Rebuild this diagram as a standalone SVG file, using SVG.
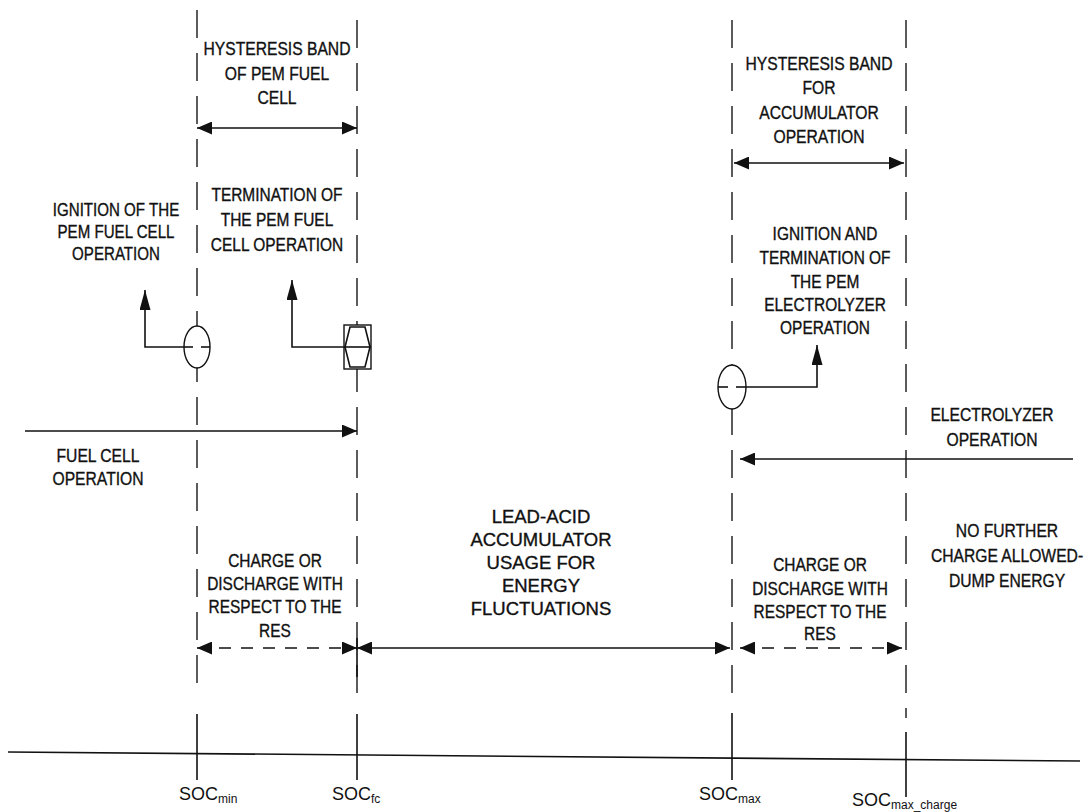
<svg xmlns="http://www.w3.org/2000/svg" width="1089" height="812" viewBox="0 0 1089 812">
<style>
.t{font-family:"Liberation Sans",Arial,sans-serif;font-size:18px;fill:#111;stroke:#111;stroke-width:0.35;text-anchor:middle}
.big{font-size:18.5px}
.soc{font-family:"Liberation Sans",Arial,sans-serif;font-size:18px;fill:#111}
.sub{font-size:12px}
.dash{stroke:#333;stroke-width:1.6;stroke-dasharray:28 15;fill:none}
.ln{stroke:#111;stroke-width:1.6;fill:none}
.dl{stroke:#111;stroke-width:1.6;fill:none;stroke-dasharray:12 10}
.sym{stroke:#111;stroke-width:1.4;fill:#fff}
</style>
<defs>
<marker id="ah" markerUnits="userSpaceOnUse" markerWidth="15" markerHeight="13" refX="15" refY="6.5" orient="auto-start-reverse"><path d="M0,0 L15,6.5 L0,13 z" fill="#111"/></marker>
<marker id="av" markerUnits="userSpaceOnUse" markerWidth="20" markerHeight="11" refX="20" refY="5.5" orient="auto"><path d="M0,0 L20,5.5 L0,11 z" fill="#111"/></marker>
</defs>
<rect width="1089" height="812" fill="#fff"/>

<g id="guides">
<line class="dash" x1="197" y1="10" x2="197" y2="690"/>
<line class="dash" x1="357" y1="20" x2="357" y2="700"/>
<line class="dash" x1="732" y1="20" x2="732" y2="700"/>
<line class="dash" x1="906" y1="20" x2="906" y2="718"/>
<line class="ln" x1="357" y1="638" x2="357" y2="677"/>
</g>

<g id="axis">
<line class="ln" x1="8" y1="752" x2="1080" y2="761"/>
<line class="ln" x1="197" y1="714" x2="197" y2="780"/>
<line class="ln" x1="357" y1="714" x2="357" y2="780"/>
<line class="ln" x1="732" y1="713" x2="732" y2="780"/>
<line class="ln" x1="906" y1="732" x2="906" y2="797"/>
</g>

<g id="connectors">
<line class="ln" x1="197" y1="128" x2="357" y2="128" marker-start="url(#ah)" marker-end="url(#ah)"/>
<line class="ln" x1="734" y1="163" x2="904" y2="163" marker-start="url(#ah)" marker-end="url(#ah)"/>
<line class="ln" x1="25" y1="431" x2="357" y2="431" marker-end="url(#ah)"/>
<line class="ln" x1="1073" y1="459" x2="740" y2="459" marker-end="url(#ah)"/>
<line class="dl" x1="197" y1="648" x2="357" y2="648" marker-start="url(#ah)" marker-end="url(#ah)"/>
<line class="ln" x1="357" y1="648" x2="730" y2="648" marker-start="url(#ah)" marker-end="url(#ah)"/>
<line class="dl" x1="740" y1="648" x2="902" y2="648" marker-start="url(#ah)" marker-end="url(#ah)"/>
<polyline class="ln" points="197,347 145,347 145,290" marker-end="url(#av)"/>
<polyline class="ln" points="357,347 292,347 292,280" marker-end="url(#av)"/>
<polyline class="ln" points="732,387 817,387 817,345" marker-end="url(#av)"/>
</g>

<g id="sym-ignition-fc">
<ellipse class="sym" cx="197" cy="347" rx="13" ry="21"/>
<line class="ln" x1="184" y1="347" x2="193" y2="347"/>
<line class="ln" x1="201" y1="347" x2="210" y2="347"/>
</g>
<g id="sym-termination-fc">
<rect class="sym" x="344" y="325" width="27" height="44"/>
<polygon class="ln" points="350,327 365,327 370,347 365,367 350,367 345,347"/>
<line class="ln" x1="344" y1="347" x2="371" y2="347"/>
</g>
<g id="sym-electrolyzer">
<ellipse class="sym" cx="732" cy="387" rx="14" ry="22"/>
<line class="ln" x1="718" y1="387" x2="728" y2="387"/>
<line class="ln" x1="736" y1="387" x2="746" y2="387"/>
</g>

<g id="hyst-pem" transform="translate(277 0) scale(0.87 1)">
<text class="t" x="0" y="55">HYSTERESIS BAND</text>
<text class="t" x="0" y="80">OF PEM FUEL</text>
<text class="t" x="0" y="104">CELL</text>
</g>
<g id="ignition-fc" transform="translate(116 0) scale(0.84 1)">
<text class="t" x="0" y="216">IGNITION OF THE</text>
<text class="t" x="0" y="238">PEM FUEL CELL</text>
<text class="t" x="0" y="260">OPERATION</text>
</g>
<g id="termination-fc" transform="translate(277 0) scale(0.86 1)">
<text class="t" x="0" y="201">TERMINATION OF</text>
<text class="t" x="0" y="226">THE PEM FUEL</text>
<text class="t" x="0" y="251">CELL OPERATION</text>
</g>
<g id="hyst-acc" transform="translate(819 0) scale(0.87 1)">
<text class="t" x="0" y="70">HYSTERESIS BAND</text>
<text class="t" x="0" y="94">FOR</text>
<text class="t" x="0" y="119">ACCUMULATOR</text>
<text class="t" x="0" y="143">OPERATION</text>
</g>
<g id="electrolyzer-ign" transform="translate(825 0) scale(0.86 1)">
<text class="t" x="0" y="240">IGNITION AND</text>
<text class="t" x="0" y="264">TERMINATION OF</text>
<text class="t" x="0" y="288">THE PEM</text>
<text class="t" x="0" y="311">ELECTROLYZER</text>
<text class="t" x="0" y="334">OPERATION</text>
</g>
<g id="electrolyzer-op" transform="translate(992 0) scale(0.87 1)">
<text class="t" x="0" y="421">ELECTROLYZER</text>
<text class="t" x="0" y="446">OPERATION</text>
</g>
<g id="fuelcell-op" transform="translate(98 0) scale(0.87 1)">
<text class="t" x="0" y="462">FUEL CELL</text>
<text class="t" x="0" y="485">OPERATION</text>
</g>
<g id="charge-left" transform="translate(275 0) scale(0.86 1)">
<text class="t" x="0" y="567">CHARGE OR</text>
<text class="t" x="0" y="590">DISCHARGE WITH</text>
<text class="t" x="0" y="613">RESPECT TO THE</text>
<text class="t" x="0" y="637">RES</text>
</g>
<g id="charge-right" transform="translate(820 0) scale(0.86 1)">
<text class="t" x="0" y="571">CHARGE OR</text>
<text class="t" x="0" y="595">DISCHARGE WITH</text>
<text class="t" x="0" y="618">RESPECT TO THE</text>
<text class="t" x="0" y="640">RES</text>
</g>
<g id="no-further" transform="translate(1007 0) scale(0.87 1)">
<text class="t" x="0" y="537">NO FURTHER</text>
<text class="t" x="0" y="562">CHARGE ALLOWED-</text>
<text class="t" x="0" y="587">DUMP ENERGY</text>
</g>
<g id="lead-acid">
<text class="t big" x="541" y="523">LEAD-ACID</text>
<text class="t big" x="541" y="546">ACCUMULATOR</text>
<text class="t big" x="541" y="569">USAGE FOR</text>
<text class="t big" x="541" y="592">ENERGY</text>
<text class="t big" x="541" y="615">FLUCTUATIONS</text>
</g>

<g id="labels">
<text class="soc" x="179" y="800">SOC<tspan class="sub" dy="3">min</tspan></text>
<text class="soc" x="332" y="800">SOC<tspan class="sub" dy="3">fc</tspan></text>
<text class="soc" x="699" y="800">SOC<tspan class="sub" dy="3">max</tspan></text>
<text class="soc" x="852" y="806">SOC<tspan class="sub" dy="3">max_charge</tspan></text>
</g>
</svg>
